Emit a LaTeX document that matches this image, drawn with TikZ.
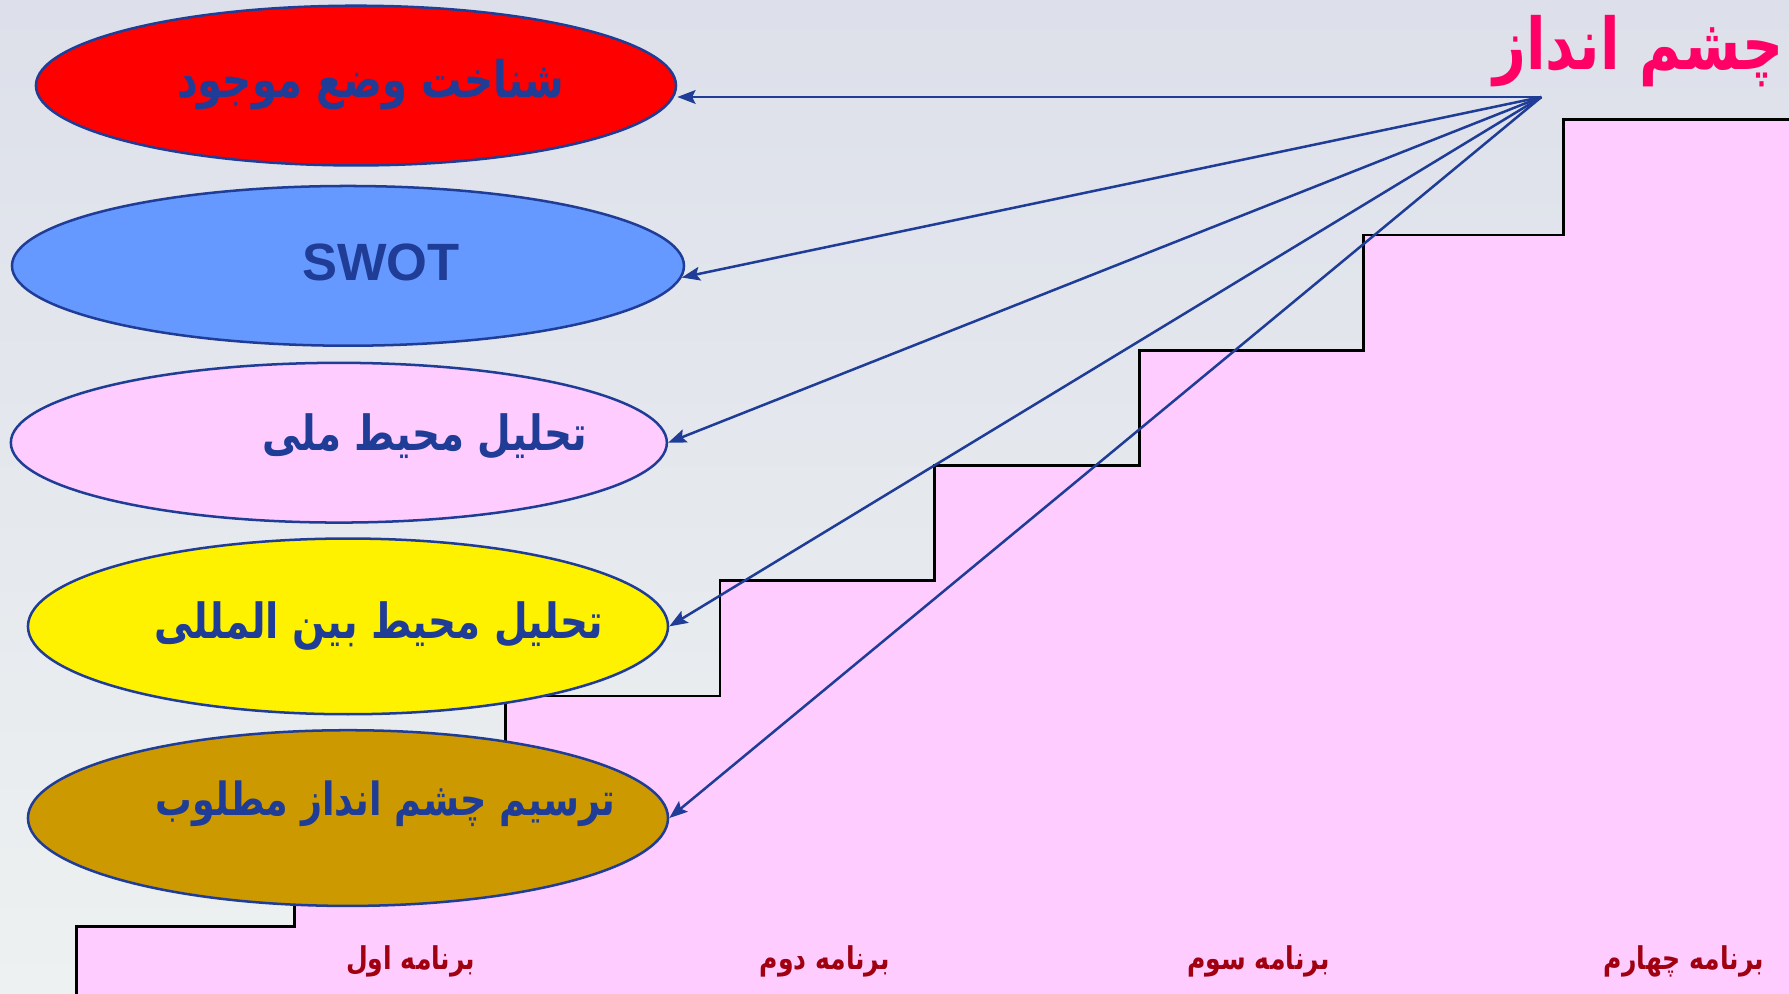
\documentclass[tikz,border=0pt]{standalone}
\usepackage{fontspec}
\usetikzlibrary{shapes.geometric,arrows.meta}
\TeXXeTstate=1
\newfontfamily\arabicfont[Script=Arabic]{DejaVu Sans}
\newfontfamily\swotfont{Liberation Sans}
\definecolor{bgtop}{RGB}{221,224,234}
\definecolor{bgbot}{RGB}{237,241,241}
\definecolor{stairpink}{RGB}{255,204,255}
\definecolor{navy}{RGB}{31,60,150}
\definecolor{titlemag}{RGB}{255,0,102}
\definecolor{labred}{RGB}{160,0,16}
\definecolor{gold}{RGB}{204,153,0}
\definecolor{skyblue}{RGB}{102,153,255}
\newcommand{\tallR}[1]{\scalebox{1}[1.25]{\beginR #1\endR}}
\tikzset{
  oval/.style={ellipse, draw=navy, line width=2.2pt, inner sep=0pt},
  ovaltext/.style={text=navy, font=\arabicfont\bfseries\fontsize{34}{40}\selectfont, inner sep=0pt},
  proglabel/.style={text=labred, font=\arabicfont\bfseries\fontsize{22}{26}\selectfont, inner sep=0pt},
  arr/.style={draw=navy, line width=2.2pt, -{Stealth[length=16pt,width=12pt,inset=3pt]}},
}
\begin{document}
\begin{tikzpicture}[x=1pt,y=-1pt]
\useasboundingbox (0,0) rectangle (1568,871);
\shade[top color=bgtop, bottom color=bgbot] (0,0) rectangle (1568,871);
% staircase
\fill[stairpink] (67,871) -- (67,812) -- (258,812) -- (258,711) -- (443,711) -- (443,610) -- (631,610) -- (631,509) -- (819,509) -- (819,408) -- (999,408) -- (999,307) -- (1195,307) -- (1195,206) -- (1370,206) -- (1370,105) -- (1568,105) -- (1568,871) -- cycle;
\draw[black, line width=2.5pt] (67,871) -- (67,812) -- (258,812) -- (258,711) -- (443,711) -- (443,610) -- (631,610) -- (631,509) -- (819,509) -- (819,408) -- (999,408) -- (999,307) -- (1195,307) -- (1195,206) -- (1370,206) -- (1370,105) -- (1568,105);
% ellipses
\node[oval, fill=red, minimum width=561pt, minimum height=140pt] (e1) at (312,75) {};
\node[oval, fill=skyblue, minimum width=589pt, minimum height=140pt] (e2) at (305,233) {};
\node[oval, fill=stairpink, minimum width=575pt, minimum height=140pt] (e3) at (297,388) {};
\node[oval, fill=yellow, minimum width=561pt, minimum height=154pt] (e4) at (305,549) {};
\node[oval, fill=gold, minimum width=561pt, minimum height=154pt] (e5) at (305,717) {};
% texts
\node[ovaltext, font=\arabicfont\bfseries\fontsize{35.3}{40}\selectfont] (t1) at (325,74) {\tallR{شناخت وضع موجود}};
\node[text=navy, font=\swotfont\bfseries\fontsize{46}{50}\selectfont, inner sep=0pt] (t2) at (334,230) {SWOT};
\node[ovaltext] (t3) at (372,383) {\tallR{تحلیل محیط ملی}};
\node[ovaltext] (t4) at (332,549) {\tallR{تحلیل محیط بین المللی}};
\node[ovaltext, font=\arabicfont\bfseries\fontsize{32}{38}\selectfont] (t5) at (338,704) {\tallR{ترسیم چشم انداز مطلوب}};
% title
\node[text=titlemag, font=\arabicfont\bfseries\fontsize{50}{56}\selectfont, inner sep=0pt] (title) at (1436,45) {\tallR{چشم انداز}};
\coordinate (F) at (1351,85);
% arrows
\draw[arr] (F) -- (F -| e1.east);
\draw[arr] (F) -- (e2.-2);
\draw[arr] (F) -- (e3.east);
\draw[arr] (F) -- (e4.east);
\draw[arr] (F) -- (e5.east);
% program labels
\node[proglabel] (p1) at (360,843) {\tallR{برنامه اول}};
\node[proglabel] (p2) at (723,843) {\tallR{برنامه دوم}};
\node[proglabel] (p3) at (1103,843) {\tallR{برنامه سوم}};
\node[proglabel] (p4) at (1476,843) {\tallR{برنامه چهارم}};
\end{tikzpicture}
\end{document}
